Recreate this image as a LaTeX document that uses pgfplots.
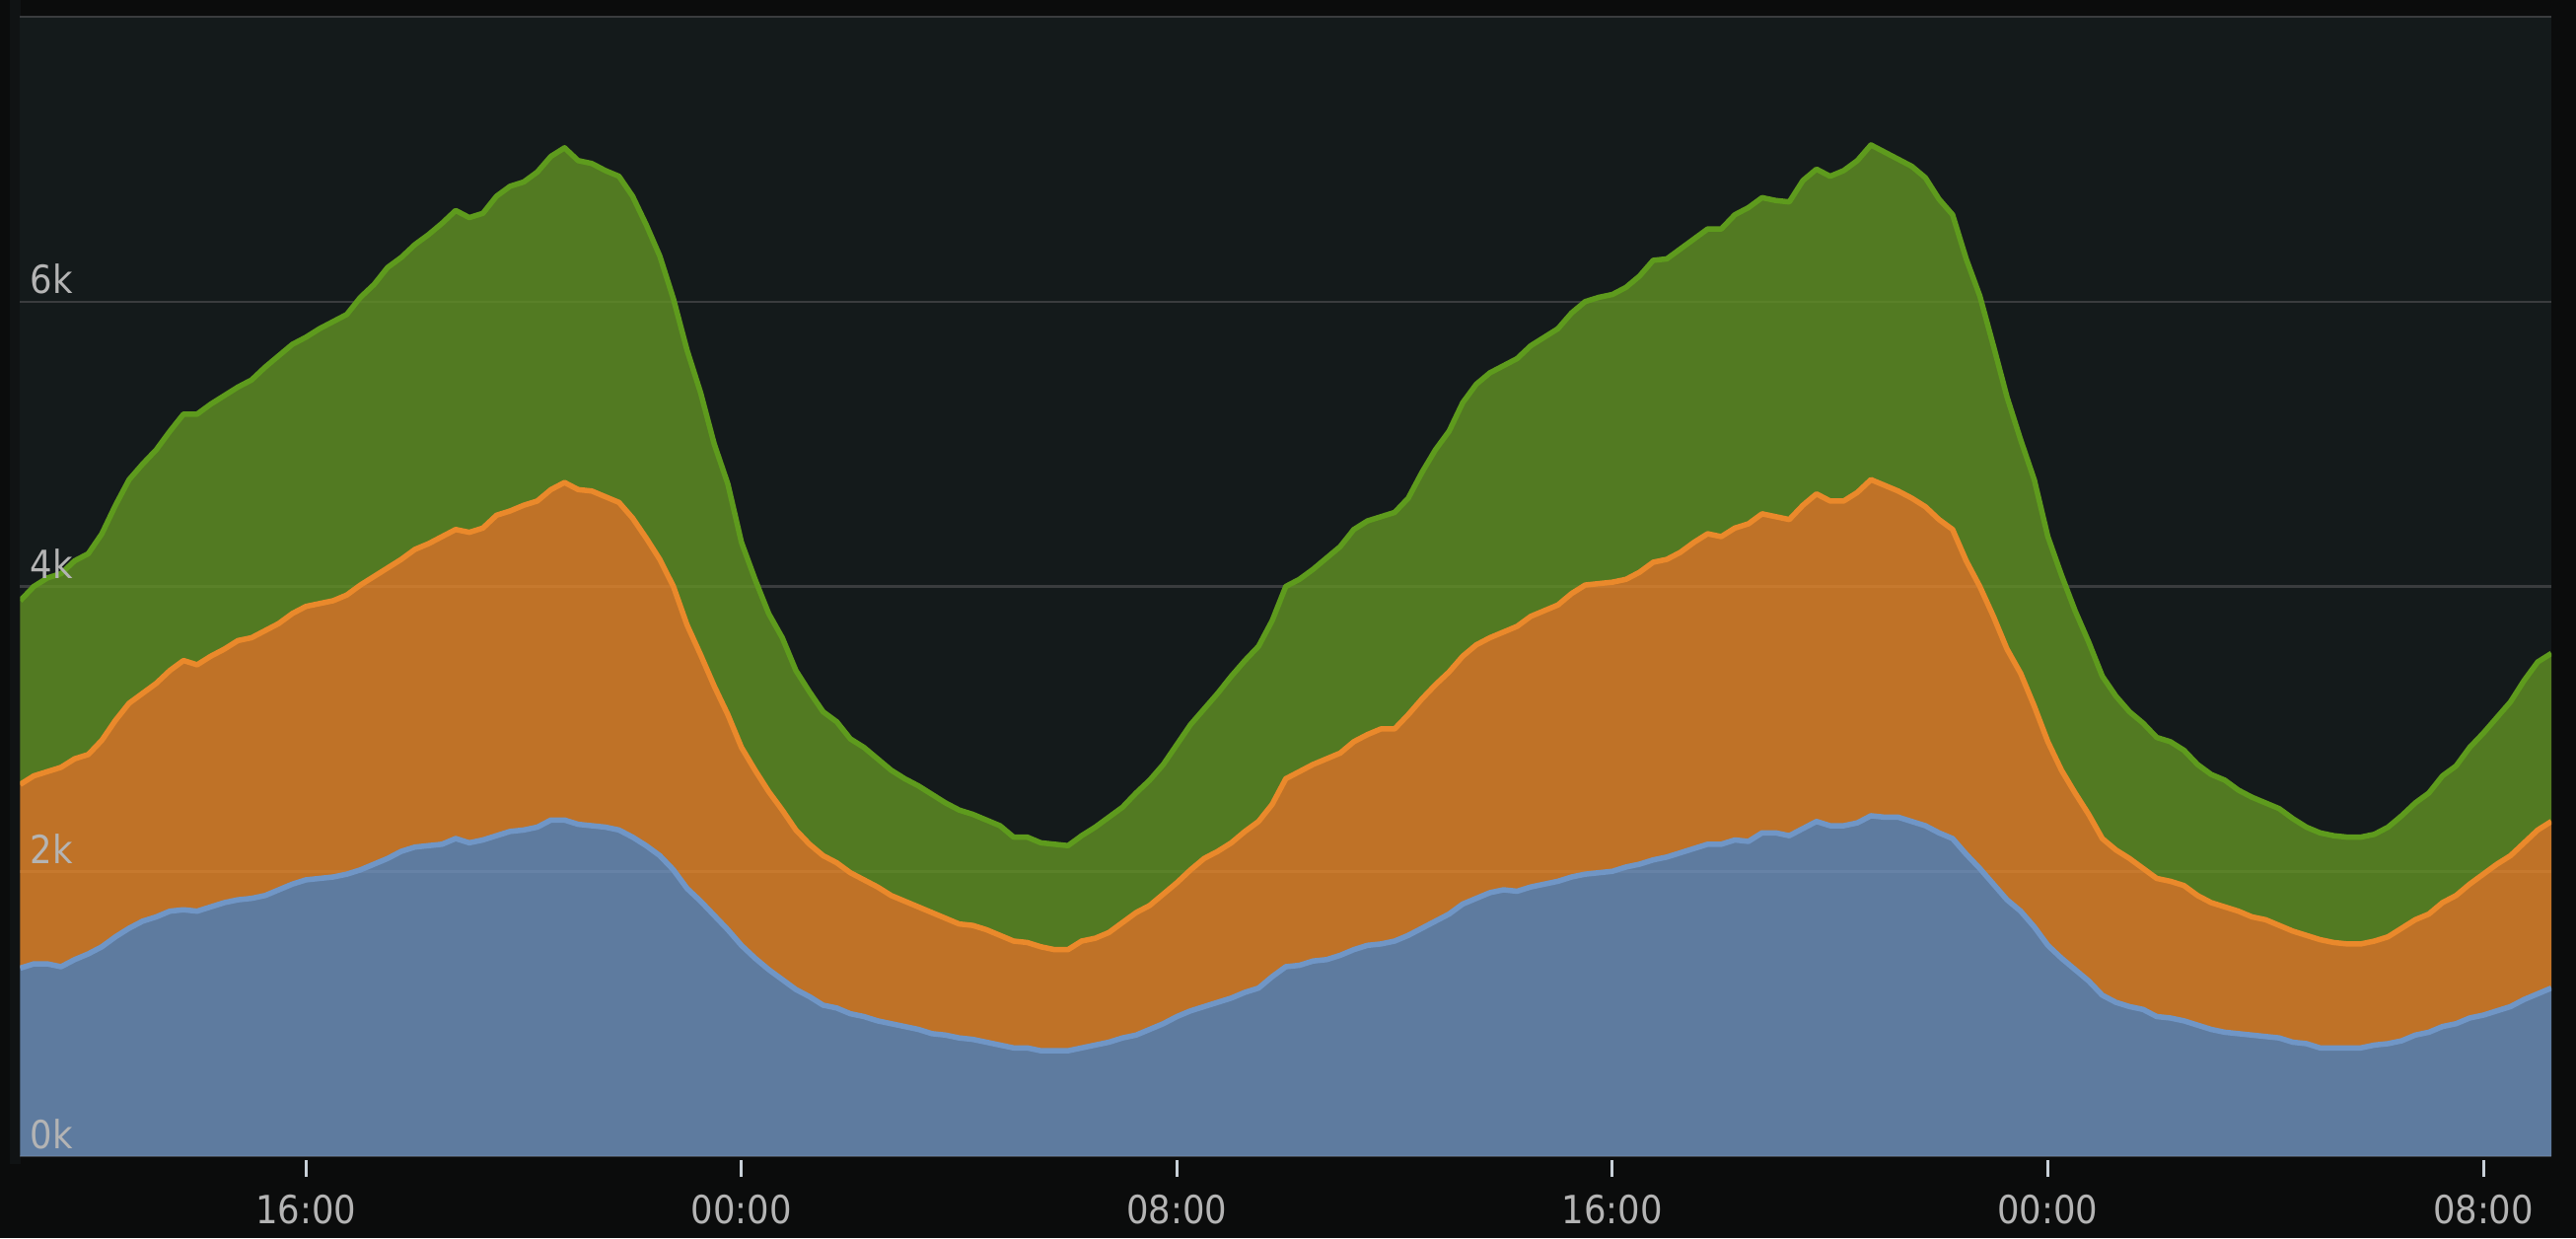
\documentclass[border=0pt]{standalone}
\usepackage{fontspec}
\usepackage{pgfplots}
\usepackage{pgfplotstable}
\pgfplotsset{compat=1.18}
\newfontfamily\dvc{DejaVu Sans Condensed}
\definecolor{pagebg}{HTML}{0B0C0C}
\definecolor{edgebg}{HTML}{101314}
\definecolor{panelbg}{HTML}{141A1B}
\definecolor{gridc}{HTML}{3A3C3E}
\definecolor{gfill}{HTML}{629324}
\definecolor{gline}{HTML}{5E9B1D}
\definecolor{ofill}{HTML}{EA892B}
\definecolor{oline}{HTML}{EA892B}
\definecolor{bfill}{HTML}{7194C1}
\definecolor{bline}{HTML}{7096C6}
\definecolor{labelc}{HTML}{B4B4B4}
\definecolor{tickc}{HTML}{C8D0D8}

% t = hours from day 0 00:00; b, o, g = cumulative (stacked) tops in thousands
\pgfplotstableread{
t b o g
10.75 1.32 2.61 3.90
11.00 1.35 2.67 4.00
11.25 1.35 2.70 4.06
11.50 1.33 2.73 4.09
11.75 1.38 2.79 4.18
12.00 1.42 2.82 4.23
12.25 1.47 2.92 4.37
12.50 1.54 3.06 4.57
12.75 1.60 3.18 4.75
13.00 1.65 3.25 4.86
13.25 1.68 3.32 4.96
13.50 1.72 3.41 5.09
13.75 1.73 3.48 5.21
14.00 1.72 3.45 5.21
14.25 1.75 3.51 5.28
14.50 1.78 3.56 5.34
14.75 1.80 3.62 5.40
15.00 1.81 3.64 5.45
15.25 1.83 3.69 5.54
15.50 1.87 3.74 5.62
15.75 1.91 3.81 5.70
16.00 1.94 3.86 5.75
16.25 1.95 3.88 5.81
16.50 1.96 3.90 5.86
16.75 1.98 3.94 5.91
17.00 2.01 4.01 6.03
17.25 2.05 4.07 6.12
17.50 2.09 4.13 6.24
17.75 2.14 4.19 6.31
18.00 2.17 4.26 6.40
18.25 2.18 4.30 6.47
18.50 2.19 4.35 6.55
18.75 2.23 4.40 6.64
19.00 2.20 4.38 6.59
19.25 2.22 4.41 6.62
19.50 2.25 4.50 6.74
19.75 2.28 4.53 6.81
20.00 2.29 4.57 6.84
20.25 2.31 4.60 6.91
20.50 2.36 4.68 7.02
20.75 2.36 4.73 7.08
21.00 2.33 4.68 6.99
21.25 2.32 4.67 6.97
21.50 2.31 4.63 6.92
21.75 2.29 4.59 6.88
22.00 2.24 4.48 6.74
22.25 2.18 4.34 6.54
22.50 2.11 4.19 6.32
22.75 2.01 4.00 6.02
23.00 1.88 3.73 5.66
23.25 1.79 3.52 5.36
23.50 1.69 3.30 5.00
23.75 1.59 3.10 4.72
24.00 1.48 2.87 4.31
24.25 1.39 2.71 4.05
24.50 1.31 2.56 3.81
24.75 1.24 2.43 3.64
25.00 1.17 2.29 3.41
25.25 1.12 2.19 3.26
25.50 1.06 2.11 3.12
25.75 1.04 2.06 3.05
26.00 1.00 1.99 2.93
26.25 0.98 1.94 2.87
26.50 0.95 1.89 2.79
26.75 0.93 1.83 2.71
27.00 0.91 1.79 2.65
27.25 0.89 1.75 2.60
27.50 0.86 1.71 2.54
27.75 0.85 1.67 2.48
28.00 0.83 1.63 2.43
28.25 0.82 1.62 2.40
28.50 0.80 1.59 2.36
28.75 0.78 1.55 2.32
29.00 0.76 1.51 2.24
29.25 0.76 1.50 2.24
29.50 0.74 1.47 2.20
29.75 0.74 1.45 2.19
30.00 0.74 1.45 2.18
30.25 0.76 1.51 2.25
30.50 0.78 1.53 2.31
30.75 0.80 1.57 2.38
31.00 0.83 1.64 2.45
31.25 0.85 1.71 2.55
31.50 0.89 1.76 2.64
31.75 0.93 1.84 2.75
32.00 0.98 1.92 2.89
32.25 1.02 2.01 3.03
32.50 1.05 2.09 3.14
32.75 1.08 2.14 3.25
33.00 1.11 2.20 3.37
33.25 1.15 2.28 3.48
33.50 1.18 2.35 3.58
33.75 1.26 2.47 3.76
34.00 1.33 2.65 4.00
34.25 1.34 2.70 4.05
34.50 1.37 2.75 4.12
34.75 1.38 2.79 4.20
35.00 1.41 2.83 4.28
35.25 1.45 2.91 4.40
35.50 1.48 2.96 4.46
35.75 1.49 3.00 4.49
36.00 1.51 3.00 4.52
36.25 1.55 3.10 4.62
36.50 1.60 3.21 4.80
36.75 1.65 3.31 4.96
37.00 1.70 3.40 5.09
37.25 1.77 3.51 5.29
37.50 1.81 3.59 5.42
37.75 1.85 3.64 5.50
38.00 1.87 3.68 5.55
38.25 1.86 3.72 5.60
38.50 1.89 3.79 5.69
38.75 1.91 3.83 5.75
39.00 1.93 3.87 5.81
39.25 1.96 3.95 5.92
39.50 1.98 4.01 6.00
39.75 1.99 4.02 6.03
40.00 2.00 4.03 6.05
40.25 2.03 4.05 6.10
40.50 2.05 4.10 6.18
40.75 2.08 4.17 6.29
41.00 2.10 4.19 6.30
41.25 2.13 4.24 6.37
41.50 2.16 4.31 6.44
41.75 2.19 4.37 6.51
42.00 2.19 4.35 6.51
42.25 2.22 4.41 6.61
42.50 2.21 4.44 6.66
42.75 2.27 4.51 6.73
43.00 2.27 4.49 6.71
43.25 2.25 4.47 6.70
43.50 2.30 4.57 6.85
43.75 2.35 4.65 6.93
44.00 2.32 4.60 6.88
44.25 2.32 4.60 6.92
44.50 2.34 4.66 6.99
44.75 2.39 4.75 7.10
45.00 2.38 4.71 7.05
45.25 2.38 4.67 7.00
45.50 2.35 4.62 6.95
45.75 2.32 4.56 6.87
46.00 2.27 4.47 6.72
46.25 2.23 4.40 6.61
46.50 2.12 4.18 6.30
46.75 2.02 4.00 6.04
47.00 1.91 3.79 5.69
47.25 1.80 3.56 5.33
47.50 1.72 3.39 5.03
47.75 1.61 3.16 4.75
48.00 1.48 2.91 4.35
48.25 1.39 2.71 4.08
48.50 1.31 2.55 3.83
48.75 1.23 2.40 3.61
49.00 1.13 2.23 3.37
49.25 1.08 2.15 3.23
49.50 1.05 2.09 3.12
49.75 1.03 2.02 3.04
50.00 0.98 1.95 2.94
50.25 0.97 1.93 2.91
50.50 0.95 1.90 2.85
50.75 0.92 1.83 2.75
51.00 0.89 1.78 2.68
51.25 0.87 1.75 2.64
51.50 0.86 1.72 2.57
51.75 0.85 1.68 2.52
52.00 0.84 1.66 2.48
52.25 0.83 1.62 2.44
52.50 0.80 1.58 2.37
52.75 0.79 1.55 2.31
53.00 0.76 1.52 2.27
53.25 0.76 1.50 2.25
53.50 0.76 1.49 2.24
53.75 0.76 1.49 2.24
54.00 0.78 1.51 2.26
54.25 0.79 1.54 2.31
54.50 0.81 1.60 2.39
54.75 0.85 1.66 2.48
55.00 0.87 1.70 2.55
55.25 0.91 1.78 2.67
55.50 0.93 1.83 2.74
55.75 0.97 1.91 2.87
56.00 0.99 1.98 2.97
56.25 1.02 2.05 3.08
56.50 1.05 2.11 3.19
56.75 1.10 2.20 3.34
57.00 1.14 2.29 3.47
57.25 1.18 2.35 3.53
}\data

\pgfplotsset{
  panel/.style={
    at={(0.205cm,0.83cm)}, anchor=south west,
    scale only axis, width=25.665cm, height=11.55cm,
    xmin=10.75, xmax=57.25, ymin=0, ymax=8,
    axis line style={draw=none},
    ytick={0,2,4,6,8},
    xtick pos=bottom, ytick pos=left,
  },
}

\begin{document}
\begin{tikzpicture}
\useasboundingbox (0,0) rectangle (26.12,12.55);
\fill[pagebg] (0,0) rectangle (26.12,12.55);
\fill[edgebg] (0.10,0.75) rectangle (0.205,12.55);
% panel, grid and stacked semi-transparent fills (grid shows through)
\begin{axis}[
  panel,
  stack plots=y,
  axis background/.style={fill=panelbg},
  xtick=\empty,
  yticklabels={,,,,},
  yticklabel style={text opacity=0},
  ymajorgrids,
  major grid style={gridc, line width=0.025cm},
  ytick style={draw=none},
]
\addplot[fill=bfill, fill opacity=0.8, draw=none] table[x=t, y=b]{\data} \closedcycle;
\addplot[fill=ofill, fill opacity=0.8, draw=none] table[x=t, y expr=\thisrow{o}-\thisrow{b}]{\data} \closedcycle;
\addplot[fill=gfill, fill opacity=0.8, draw=none] table[x=t, y expr=\thisrow{g}-\thisrow{o}]{\data} \closedcycle;
\end{axis}
% series lines, ticks and tick labels on top
\begin{axis}[
  panel,
  axis on top,
  xtick={16,24,32,40,48,56},
  xticklabels={16:00,00:00,08:00,16:00,00:00,08:00},
  yticklabels={0k,2k,4k,6k,{}},
  major tick length=0.17cm,
  xtick style={tickc, line width=0.03cm, yshift=-0.21cm},
  ytick style={draw=none},
  ticklabel style={font=\dvc\fontsize{11.2}{13}\selectfont, text=labelc},
  xticklabel style={anchor=north, inner sep=0pt, yshift=-0.39cm},
  yticklabel style={anchor=base west, inner sep=0pt, xshift=0.095cm, yshift=0.08cm},
]
\addplot[gline, line width=0.055cm, line join=round] table[x=t, y=g]{\data};
\addplot[oline, line width=0.055cm, line join=round] table[x=t, y=o]{\data};
\addplot[bline, line width=0.055cm, line join=round] table[x=t, y=b]{\data};
\end{axis}
\end{tikzpicture}
\end{document}
